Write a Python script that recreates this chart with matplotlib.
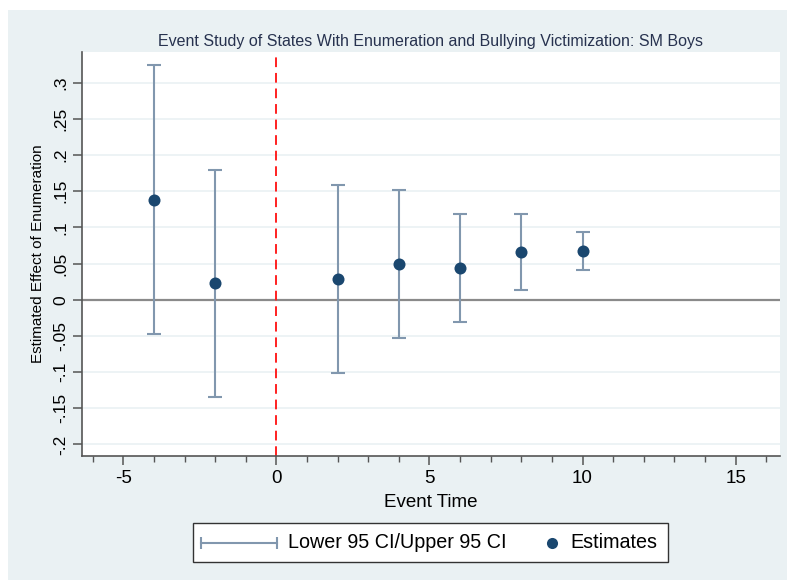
import matplotlib
matplotlib.use("Agg")
import matplotlib.pyplot as plt
from matplotlib.patches import Rectangle
from matplotlib.lines import Line2D
import numpy as np

plt.rcParams['font.family'] = ['Liberation Sans', 'DejaVu Sans']

event_time = [-4, -2, 2, 4, 6, 8, 10]
estimates = [0.138, 0.023, 0.0285, 0.049, 0.044, 0.066, 0.0677]
lower_ci = [-0.047, -0.134, -0.101, -0.053, -0.031, 0.0138, 0.0405]
upper_ci = [0.324, 0.180, 0.158, 0.152, 0.119, 0.118, 0.094]

y_ticks = [-0.2, -0.15, -0.1, -0.05, 0, 0.05, 0.1, 0.15, 0.2, 0.25, 0.3]
y_tick_labels = ["-.2", "-.15", "-.1", "-.05", "0", ".05", ".1", ".15", ".2", ".25", ".3"]
x_ticks = [-5, 0, 5, 10, 15]
x_tick_labels = ["-5", "0", "5", "10", "15"]

W, H = 787, 580
fig = plt.figure(figsize=(W / 100, H / 100), dpi=100)
fig.patch.set_facecolor('white')

bg = '#eaf1f3'
fig.patches.append(Rectangle((8 / W, 0), 1 - 8 / W, 1 - 10 / H, transform=fig.transFigure,
                             facecolor=bg, edgecolor='none', zorder=-10))

def px(x0, y0, x1, y1):
    return [x0 / W, 1 - y1 / H, (x1 - x0) / W, (y1 - y0) / H]

ax = fig.add_axes(px(82, 52, 780, 456))
ax.set_zorder(2)
ax.set_facecolor('white')

ci_color = '#8197ae'
pt_color = '#1a476f'

ax.set_xlim(-6.35, 16.45)
ax.set_ylim(-0.216, 0.3425)

for v in y_ticks:
    ax.axhline(v, color='#eaf1f3', lw=1.2, zorder=1)
ax.axhline(0, color='#8a8a8a', lw=1.6, zorder=2)
ax.axvline(0, color='#ff2020', lw=1.4, ls=(0, (5, 3)), zorder=2)

yerr = [np.array(estimates) - np.array(lower_ci), np.array(upper_ci) - np.array(estimates)]
ax.errorbar(event_time, estimates, yerr=yerr, fmt='none', ecolor=ci_color, elinewidth=1.5,
            capsize=5, capthick=1.5, zorder=3)
ax.scatter(event_time, estimates, s=75, color=pt_color, zorder=4, linewidths=0)

for s in ['top', 'right']:
    ax.spines[s].set_visible(False)
for s in ['left', 'bottom']:
    ax.spines[s].set_color('#555555')
    ax.spines[s].set_linewidth(1.2)

ax.set_yticks(y_ticks)
ax.set_yticklabels(y_tick_labels, rotation=90, va='center', fontsize=12.5)
ax.set_xticks(x_ticks)
ax.set_xticklabels(x_tick_labels, fontsize=13.5)
ax.set_xticks(np.arange(-6, 17, 1), minor=True)
ax.tick_params(axis='both', which='major', length=6.5, width=1.1, color='#555555', pad=3.5)
ax.tick_params(axis='x', which='minor', length=4.5, width=1.0, color='#555555')
ax.set_xlabel('Event Time', fontsize=13.5, labelpad=5)
ax.set_ylabel('Estimated Effect of Enumeration', fontsize=11, labelpad=6)
ax.set_title('Event Study of States With Enumeration and Bullying Victimization: SM Boys',
             fontsize=11.5, color='#27324f', pad=4)

# legend box (drawn manually in figure pixels)
def fx(x):
    return x / W
def fy(y):
    return 1 - y / H

fig.patches.append(Rectangle((fx(193), fy(562)), (668 - 193) / W, (562 - 523) / H,
                             transform=fig.transFigure, facecolor='white',
                             edgecolor='#333333', lw=1.0, zorder=5))
fig.lines.append(Line2D([fx(201), fx(277)], [fy(542.5), fy(542.5)], transform=fig.transFigure,
                        color=ci_color, lw=1.5, marker='|', markersize=9, markeredgewidth=1.5,
                        zorder=6))
fig.text(fx(288), fy(542.5), 'Lower 95 CI/Upper 95 CI', fontsize=14.2, va='center', ha='left',
         zorder=6)
fig.lines.append(Line2D([fx(552)], [fy(542.5)], transform=fig.transFigure, color=pt_color,
                        marker='o', markersize=8, markeredgewidth=0, lw=0, zorder=6))
fig.text(fx(570), fy(542.5), 'Estimates', fontsize=14.2, va='center', ha='left', zorder=6)

fig.savefig('out.png', dpi=100)
